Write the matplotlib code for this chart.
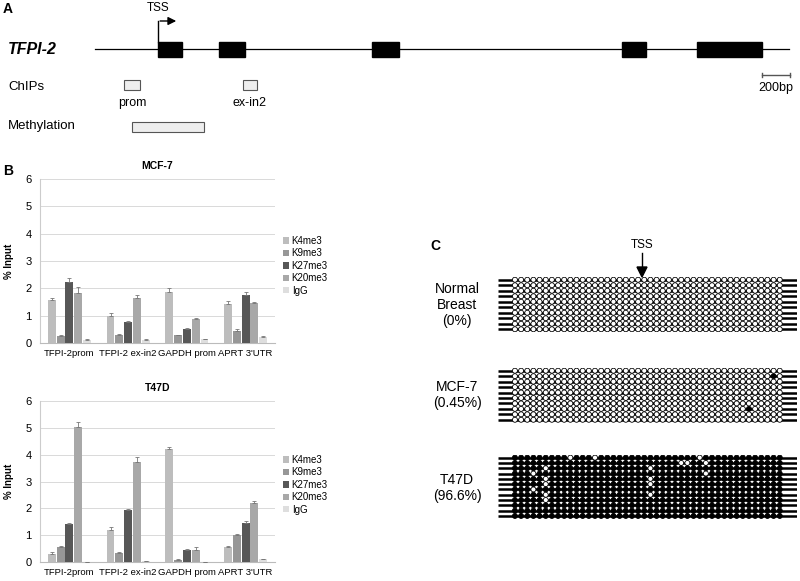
import matplotlib
matplotlib.use('Agg')
import matplotlib.pyplot as plt
from matplotlib.patches import Rectangle
from matplotlib.lines import Line2D
import numpy as np

plt.rcParams['font.family'] = ['Liberation Sans', 'DejaVu Sans']

W, H = 800, 581

# ---- panel A: gene structure (bp, relative to TSS) ----
gene_span = [-450, 4510]
exons = [(0, 171), (436, 621), (1529, 1721), (3314, 3486), (3850, 4314)]
chip_regions = [(-243, -129), (607, 707)]
chip_names = ['prom', 'ex-in2']
methyl_region = (-186, 329)
scale_bar = (4314, 4514)

# ---- panel B: ChIP (% input) ----
sites = ['TFPI-2prom', 'TFPI-2 ex-in2', 'GAPDH prom', "APRT 3'UTR"]
marks = ['K4me3', 'K9me3', 'K27me3', 'K20me3', 'IgG']
mark_colors = ['#bdbdbd', '#979797', '#575757', '#a8a8a8', '#dedede']

mcf7_vals = {
    'K4me3':  [1.59, 1.00, 1.87, 1.44],
    'K9me3':  [0.27, 0.30, 0.29, 0.44],
    'K27me3': [2.24, 0.77, 0.52, 1.76],
    'K20me3': [1.83, 1.65, 0.88, 1.46],
    'IgG':    [0.11, 0.12, 0.14, 0.22],
}
mcf7_errs = {
    'K4me3':  [0.06, 0.10, 0.13, 0.10],
    'K9me3':  [0.02, 0.03, 0.02, 0.07],
    'K27me3': [0.15, 0.03, 0.03, 0.12],
    'K20me3': [0.22, 0.12, 0.05, 0.03],
    'IgG':    [0.02, 0.02, 0.02, 0.02],
}
t47d_vals = {
    'K4me3':  [0.28, 1.20, 4.22, 0.56],
    'K9me3':  [0.56, 0.33, 0.08, 1.02],
    'K27me3': [1.40, 1.93, 0.46, 1.47],
    'K20me3': [5.04, 3.71, 0.45, 2.19],
    'IgG':    [0.01, 0.02, 0.01, 0.11],
}
t47d_errs = {
    'K4me3':  [0.08, 0.10, 0.05, 0.05],
    'K9me3':  [0.04, 0.03, 0.02, 0.02],
    'K27me3': [0.04, 0.05, 0.04, 0.04],
    'K20me3': [0.17, 0.20, 0.12, 0.10],
    'IgG':    [0.00, 0.01, 0.00, 0.02],
}

# ---- panel C: bisulfite clones (44 CpGs) ----
n_cpg = 44
normal_rows = 10
mcf7_rows = 10
t47d_rows = 12
mcf7_methylated = [(1, 42), (7, 38)]          # (row, col) filled
t47d_unmethylated = [(0, 9), (0, 13), (2, 5), (3, 3), (4, 5), (5, 5), (6, 3),
                     (7, 5), (8, 5), (0, 30), (1, 27), (1, 28), (1, 31),
                     (2, 22), (3, 31), (4, 22), (5, 22), (7, 22)]


def box(l, t, r, b):
    return [l / W, 1 - b / H, (r - l) / W, (b - t) / H]


def ftext(x, y, s, **kw):
    fig.text(x / W, 1 - y / H, s, **kw)


fig = plt.figure(figsize=(8, 5.81), dpi=100)

# ================= A =================
axA = fig.add_axes(box(0, 0, 800, 140))
bp_per_px = 200 / 28.0
axA.set_xlim(-158 * bp_per_px, (800 - 158) * bp_per_px)
axA.set_ylim(140, 0)
axA.axis('off')

axA.plot(gene_span, [49, 49], color='black', lw=0.9)
for s, e in exons:
    axA.add_patch(Rectangle((s, 42), e - s, 15, color='black'))
# TSS arrow
axA.plot([0, 0], [42, 21], color='black', lw=1)
axA.annotate('', xy=(150, 21), xytext=(-5, 21),
             arrowprops=dict(arrowstyle='-|>', color='black', lw=1, mutation_scale=12))
ftext(158, 8, 'TSS', fontsize=8.5, ha='center', va='center')

for (s, e), nm in zip(chip_regions, chip_names):
    axA.add_patch(Rectangle((s, 80), e - s, 10, facecolor='#eeeeee', edgecolor='#555555', lw=0.8))
    ftext(158 + (s + e) / 2 / bp_per_px, 103, nm, fontsize=9, ha='center', va='center')
axA.add_patch(Rectangle((methyl_region[0], 122), methyl_region[1] - methyl_region[0], 10,
                        facecolor='#eeeeee', edgecolor='#555555', lw=0.8))
axA.plot(scale_bar, [75, 75], color='#555555', lw=1)
axA.plot([scale_bar[0]] * 2, [73, 77], color='#555555', lw=1)
axA.plot([scale_bar[1]] * 2, [73, 77], color='#555555', lw=1)
ftext(776, 88, '200bp', fontsize=9, ha='center', va='center')

ftext(3, 9, 'A', fontsize=10, fontweight='bold', va='center')
ftext(8, 50, 'TFPI-2', fontsize=11.5, fontweight='bold', style='italic', va='center')
ftext(8, 87, 'ChIPs', fontsize=9.5, va='center')
ftext(8, 126, 'Methylation', fontsize=9.5, va='center')


# ================= B =================
def bar_panel(rect, title, vals, errs, leg_top):
    ax = fig.add_axes(box(*rect))
    x = np.arange(len(sites))
    for i, m in enumerate(marks):
        v = np.array(vals[m])
        e = np.array(errs[m])
        ax.bar(x + (i - 2) * 0.15, v, 0.135, color=mark_colors[i], label=m,
               yerr=[np.zeros_like(e), e], zorder=3,
               error_kw=dict(ecolor='#777777', elinewidth=0.6, capsize=1.2, capthick=0.6))
    ax.set_xlim(-0.5, 3.5)
    ax.set_ylim(0, 6)
    ax.set_yticks(range(7))
    ax.set_xticks(x)
    ax.set_xticklabels(sites, fontsize=6.8)
    ax.tick_params(axis='y', labelsize=8, length=0, pad=6)
    ax.tick_params(axis='x', length=0, pad=4)
    ax.grid(axis='y', color='#d9d9d9', lw=0.7, zorder=0)
    for sp in ['top', 'right']:
        ax.spines[sp].set_visible(False)
    ax.spines['left'].set_color('#cccccc')
    ax.spines['bottom'].set_color('#bbbbbb')
    ax.set_title(title, fontsize=7.5, fontweight='bold', pad=7)
    ax.set_ylabel('% Input', fontsize=7, fontweight='bold', labelpad=8)
    ax.legend(loc='upper left', bbox_to_anchor=(283 / W, 1 - leg_top / H),
              bbox_transform=fig.transFigure, frameon=False, fontsize=7,
              handlelength=0.6, handleheight=0.6, handletextpad=0.3,
              labelspacing=0.25, borderpad=0, borderaxespad=0)
    return ax


bar_panel((40, 179, 275, 343), 'MCF-7', mcf7_vals, mcf7_errs, 236)
bar_panel((40, 401, 275, 562), 'T47D', t47d_vals, t47d_errs, 455)
ftext(3, 171, 'B', fontsize=10, fontweight='bold', va='center')


# ================= C =================
def clone_panel(top, nrows, row_h, filled):
    ax = fig.add_axes(box(498, top, 797, top + nrows * row_h))
    ax.set_xlim(-2.75, 45.8)
    ax.set_ylim(nrows - 0.5, -0.5)
    ax.axis('off')
    for r in range(nrows):
        ax.plot([-2.75, 45.8], [r, r], color='black', lw=1.8, solid_capstyle='butt', zorder=1)
    cols, rows = np.meshgrid(np.arange(n_cpg), np.arange(nrows))
    fc = np.where(filled, 'black', 'white').ravel()
    ax.scatter(cols.ravel(), rows.ravel(), s=13, facecolors=fc, edgecolors='black',
               linewidths=0.6, zorder=2)
    return ax


normal = np.zeros((normal_rows, n_cpg), dtype=bool)
clone_panel(277, normal_rows, 5.5, normal)

mcf7 = np.zeros((mcf7_rows, n_cpg), dtype=bool)
for r, c in mcf7_methylated:
    mcf7[r, c] = True
clone_panel(368, mcf7_rows, 5.45, mcf7)

t47d = np.ones((t47d_rows, n_cpg), dtype=bool)
for r, c in t47d_unmethylated:
    t47d[r, c] = False
clone_panel(455, t47d_rows, 5.3, t47d)

ftext(430, 246, 'C', fontsize=10, fontweight='bold', va='center')
ftext(642, 245, 'TSS', fontsize=8.5, ha='center', va='center')
fig.add_artist(Line2D([642 / W, 642 / W], [1 - 253 / H, 1 - 270 / H], color='black', lw=1))
fig.add_artist(plt.Polygon([[637 / W, 1 - 267 / H], [647 / W, 1 - 267 / H], [642 / W, 1 - 277 / H]],
                           closed=True, color='black', transform=fig.transFigure))

ftext(457, 305, 'Normal\nBreast\n(0%)', fontsize=10, ha='center', va='center', linespacing=1.2)
ftext(457, 395, 'MCF-7\n(0.45%)', fontsize=10, ha='center', va='center', linespacing=1.2)
ftext(457, 488, 'T47D\n(96.6%)', fontsize=10, ha='center', va='center', linespacing=1.2)

fig.savefig('out.png', dpi=100)
